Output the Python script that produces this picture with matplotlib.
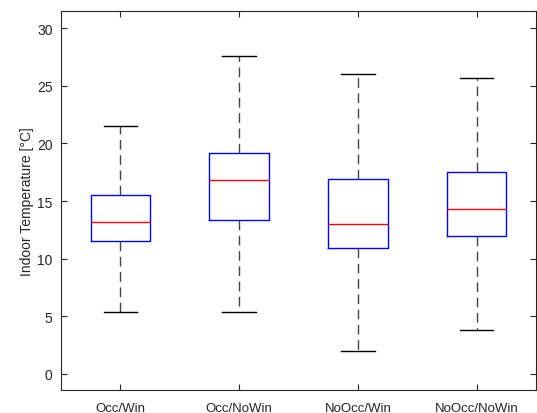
import matplotlib
matplotlib.use("Agg")
import matplotlib.pyplot as plt

# values (degC)
labels = ["Occ/Win", "Occ/NoWin", "NoOcc/Win", "NoOcc/NoWin"]
whislo = [5.4, 5.4, 2.0, 3.8]
q1 = [11.5, 13.4, 10.9, 12.0]
med = [13.2, 16.8, 13.0, 14.3]
q3 = [15.5, 19.2, 16.9, 17.5]
whishi = [21.5, 27.6, 26.0, 25.7]

plt.rcParams["font.family"] = ["Liberation Sans", "DejaVu Sans"]
plt.rcParams["font.size"] = 10

stats = [dict(label=l, whislo=a, q1=b, med=c, q3=d, whishi=e, fliers=[])
         for l, a, b, c, d, e in zip(labels, whislo, q1, med, q3, whishi)]

fig = plt.figure(figsize=(5.37, 4.14), dpi=100)
ax = fig.add_axes([61 / 537, 1 - 391 / 414, 475 / 537, 379 / 414])

ax.bxp(stats, positions=[1, 2, 3, 4], widths=0.5, capwidths=0.28,
       showfliers=False,
       boxprops=dict(color="blue", lw=1.0),
       medianprops=dict(color="red", lw=1.0),
       whiskerprops=dict(color="#444444", lw=1.0, linestyle=(0, (7, 4))),
       capprops=dict(color="black", lw=1.0))

ax.set_xlim(0.5, 4.5)
ax.set_ylim(-1.4, 31.5)
ax.set_yticks([0, 5, 10, 15, 20, 25, 30])
ax.set_ylabel("Indoor Temperature [\u00b0C]", color="#262626", labelpad=2)

dark = "#262626"
for s in ax.spines.values():
    s.set_color(dark)
    s.set_linewidth(0.8)
ax.tick_params(direction="in", top=True, right=True, length=4,
               width=0.8, colors=dark, labelcolor=dark, labelsize=10)
ax.tick_params(axis="y", pad=6)
ax.tick_params(axis="x", labelsize=9.5, pad=9)

fig.savefig("out.png", dpi=100)
